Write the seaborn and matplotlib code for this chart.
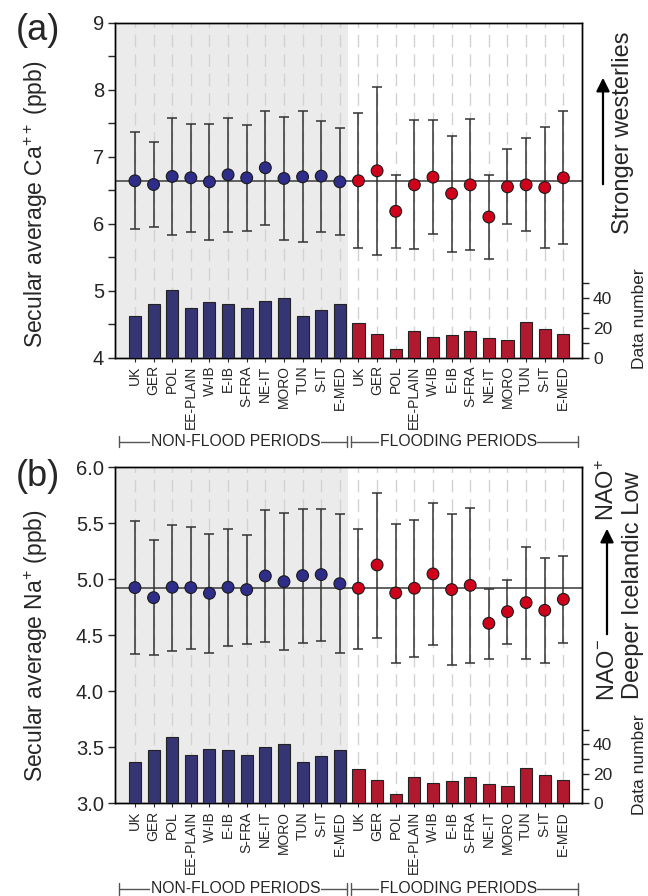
import numpy as np
import pandas as pd
import matplotlib
matplotlib.use("Agg")
import matplotlib.pyplot as plt
import seaborn as sns

# ---------------- data ----------------
regions = ["UK", "GER", "POL", "EE-PLAIN", "W-IB", "E-IB", "S-FRA",
           "NE-IT", "MORO", "TUN", "S-IT", "E-MED"]

# Panel (a): Ca++ (ppb)
ca_nonflood = [6.64, 6.585, 6.705, 6.685, 6.625, 6.73, 6.685, 6.835, 6.675, 6.70, 6.71, 6.625]
ca_nonflood_hi = [7.37, 7.215, 7.58, 7.485, 7.495, 7.575, 7.47, 7.68, 7.59, 7.68, 7.54, 7.435]
ca_nonflood_lo = [5.915, 5.95, 5.83, 5.88, 5.755, 5.88, 5.89, 5.985, 5.75, 5.73, 5.88, 5.825]
ca_flood = [6.64, 6.79, 6.185, 6.58, 6.695, 6.45, 6.58, 6.10, 6.55, 6.58, 6.54, 6.685]
ca_flood_hi = [7.645, 8.04, 6.73, 7.55, 7.545, 7.315, 7.565, 6.725, 7.115, 7.275, 7.445, 7.675]
ca_flood_lo = [5.64, 5.54, 5.64, 5.615, 5.85, 5.58, 5.60, 5.48, 5.99, 5.885, 5.63, 5.695]
ca_mean = 6.64

# Panel (b): Na+ (ppb)
na_nonflood = [4.926, 4.836, 4.929, 4.926, 4.875, 4.929, 4.908, 5.03, 4.979, 5.033, 5.042, 4.961]
na_nonflood_hi = [5.518, 5.348, 5.488, 5.464, 5.408, 5.446, 5.396, 5.619, 5.589, 5.628, 5.628, 5.583]
na_nonflood_lo = [4.33, 4.324, 4.363, 4.375, 4.339, 4.405, 4.42, 4.438, 4.372, 4.432, 4.449, 4.342]
na_flood = [4.92, 5.128, 4.878, 4.92, 5.048, 4.908, 4.946, 4.607, 4.711, 4.792, 4.723, 4.821]
na_flood_hi = [5.452, 5.771, 5.494, 5.530, 5.679, 5.583, 5.637, 4.914, 4.997, 5.289, 5.188, 5.211]
na_flood_lo = [4.381, 4.476, 4.256, 4.307, 4.414, 4.235, 4.253, 4.292, 4.423, 4.289, 4.256, 4.432]
na_mean = 4.926

# Data number (same for both panels)
count_nonflood = [28, 36, 45, 33, 37, 36, 33, 38, 40, 28, 32, 36]
count_flood = [23, 16, 6, 18, 14, 15, 18, 13, 12, 24, 19, 16]

period_labels = ["NON-FLOOD PERIODS", "FLOODING PERIODS"]

# ---------------- style ----------------
sns.set_style("ticks")
plt.rcParams["font.family"] = ["Liberation Sans", "DejaVu Sans"]
plt.rcParams["mathtext.fontset"] = "custom"
plt.rcParams["mathtext.rm"] = "Liberation Sans"
plt.rcParams["mathtext.it"] = "Liberation Sans:italic"
plt.rcParams["mathtext.bf"] = "Liberation Sans:bold"
plt.rcParams["axes.linewidth"] = 1.0

BLUE = "#2c2a7e"
RED = "#c9001c"
MARK_BLUE = "#2e2d8a"
MARK_RED = "#d0021b"
SHADE = "#ebebeb"

n = len(regions)
pos = np.arange(2 * n)
period = ["non"] * n + ["flood"] * n


def make_df(cen_n, lo_n, hi_n, cen_f, lo_f, hi_f):
    return pd.DataFrame({
        "pos": pos,
        "period": period,
        "val": list(cen_n) + list(cen_f),
        "lo": list(lo_n) + list(lo_f),
        "hi": list(hi_n) + list(hi_f),
        "count": list(count_nonflood) + list(count_flood),
    })


df_a = make_df(ca_nonflood, ca_nonflood_lo, ca_nonflood_hi, ca_flood, ca_flood_lo, ca_flood_hi)
df_b = make_df(na_nonflood, na_nonflood_lo, na_nonflood_hi, na_flood, na_flood_lo, na_flood_hi)

fig = plt.figure(figsize=(6.48, 8.96), dpi=100)
W, H = 648.0, 896.0
XL = (-1.07, 24.0)


def px_rect(l, t, r, b):
    return [l / W, 1 - b / H, (r - l) / W, (b - t) / H]


def draw_panel(rect, df, mean, ylim, major, minor, ylabel, ylab_y, cnt_top,
               tick_fmt, bracket_y):
    ax = fig.add_axes(rect)
    ax.set_xlim(*XL)
    ax.set_ylim(*ylim)
    ax.axvspan(XL[0], 11.45, color=SHADE, lw=0, zorder=0)
    for p in pos:
        ax.axvline(p, color="#d2d2d2", lw=1.0, ls=(0, (9, 5)), zorder=1)
    ax.axhline(mean, color="#555555", lw=1.3, zorder=2)
    ax.errorbar(df["pos"], df["val"],
                yerr=[df["val"] - df["lo"], df["hi"] - df["val"]],
                fmt="none", ecolor="#333333", elinewidth=1.1,
                capsize=3.6, capthick=1.1, zorder=3)
    sns.scatterplot(data=df, x="pos", y="val", hue="period",
                    palette={"non": MARK_BLUE, "flood": MARK_RED},
                    s=72, edgecolor="#1a1a1a", linewidth=0.8,
                    legend=False, ax=ax, zorder=4)
    ax.set_yticks(major)
    ax.set_yticks(minor, minor=True)
    ax.set_yticklabels([tick_fmt.format(v) for v in major], fontsize=14.5)
    ax.set_xticks(pos)
    ax.set_xticklabels(regions * 2, rotation=90, fontsize=10)
    ax.tick_params(axis="y", which="both", direction="out", length=5, width=1, pad=3)
    ax.tick_params(axis="x", direction="out", length=3, width=0.8, pad=2.5)
    ax.set_xlabel("")
    ax.set_ylabel(ylabel, fontsize=16.5)
    ax.yaxis.set_label_coords(-0.139, ylab_y)
    for s in ax.spines.values():
        s.set_visible(True)
        s.set_color("black")

    ax2 = ax.twinx()
    sns.barplot(data=df, x="pos", y="count", hue="period", native_scale=True,
                palette={"non": BLUE, "flood": RED}, dodge=False, width=0.65,
                edgecolor="#222222", linewidth=0.8, legend=False, ax=ax2,
                zorder=3)
    ax2.set_xlim(*XL)
    ax2.set_ylim(0, cnt_top)
    ax2.set_yticks([0, 20, 40])
    ax2.set_yticks([10, 30, 50], minor=True)
    ax2.set_yticklabels(["0", "20", "40"], fontsize=12.5)
    ax2.tick_params(axis="y", which="both", direction="out", length=5, width=1, pad=3)
    ax2.set_ylabel("Data number", fontsize=12.5)
    ax2.yaxis.set_label_coords(1.107, 0.115)
    ax2.set_xlabel("")
    for s in ax2.spines.values():
        s.set_visible(True)
        s.set_color("black")

    # period brackets
    tr = ax.get_xaxis_transform()
    tick_h = 0.017
    for (x0, x1, xc, lab) in [(-0.86, 11.38, 5.4, period_labels[0]),
                              (11.59, 23.78, 17.35, period_labels[1])]:
        ax.plot([x0, x1], [bracket_y, bracket_y], color="#555555", lw=1.0,
                transform=tr, clip_on=False, zorder=5)
        for xe in (x0, x1):
            ax.plot([xe, xe], [bracket_y - tick_h, bracket_y + tick_h],
                    color="#555555", lw=1.0, transform=tr, clip_on=False, zorder=5)
        ax.text(xc, bracket_y, lab, transform=tr, ha="center", va="center",
                fontsize=11.3, zorder=6,
                bbox=dict(facecolor="white", edgecolor="none", pad=0.6))
    return ax, ax2


# Panel (a)
draw_panel(px_rect(115, 22.7, 582, 357.7), df_a, ca_mean, (4, 9),
           [4, 5, 6, 7, 8, 9], [4.5, 5.5, 6.5, 7.5, 8.5],
           r"Secular average Ca$^{\mathregular{++}}$ (ppb)", 0.459, 223,
           "{:.0f}", -0.251)

# Panel (b)
draw_panel(px_rect(115, 467.3, 582, 803.3), df_b, na_mean, (3.0, 6.0),
           [3.0, 3.5, 4.0, 4.5, 5.0, 5.5, 6.0], [],
           r"Secular average Na$^{\mathregular{+}}$ (ppb)", 0.468, 228,
           "{:.1f}", -0.255)

# panel letters
fig.text(38 / W, 1 - 30 / H, "(a)", fontsize=26, ha="center", va="center")
fig.text(38 / W, 1 - 476 / H, "(b)", fontsize=26, ha="center", va="center")

# right-hand annotations (a)
fig.text(623 / W, 1 - 133 / H, "Stronger westerlies", rotation=90,
         fontsize=17, ha="center", va="center")
fig.add_artist(matplotlib.patches.FancyArrowPatch(
    (603 / W, 1 - 187 / H), (603 / W, 1 - 75 / H), transform=fig.transFigure,
    arrowstyle="-|>", mutation_scale=20, lw=1.6, color="black"))

# right-hand annotations (b)
fig.text(608 / W, 1 - 639 / H, r"NAO$^{\mathregular{-}}$", rotation=90,
         fontsize=17, ha="center", va="top")
fig.text(608 / W, 1 - 521 / H, r"NAO$^{\mathregular{+}}$", rotation=90,
         fontsize=17, ha="center", va="bottom")
fig.add_artist(matplotlib.patches.FancyArrowPatch(
    (607 / W, 1 - 637 / H), (607 / W, 1 - 526 / H), transform=fig.transFigure,
    arrowstyle="-|>", mutation_scale=20, lw=1.6, color="black"))
fig.text(633 / W, 1 - 585 / H, "Deeper Icelandic Low", rotation=90,
         fontsize=17, ha="center", va="center")

fig.savefig("out.png", dpi=100)
